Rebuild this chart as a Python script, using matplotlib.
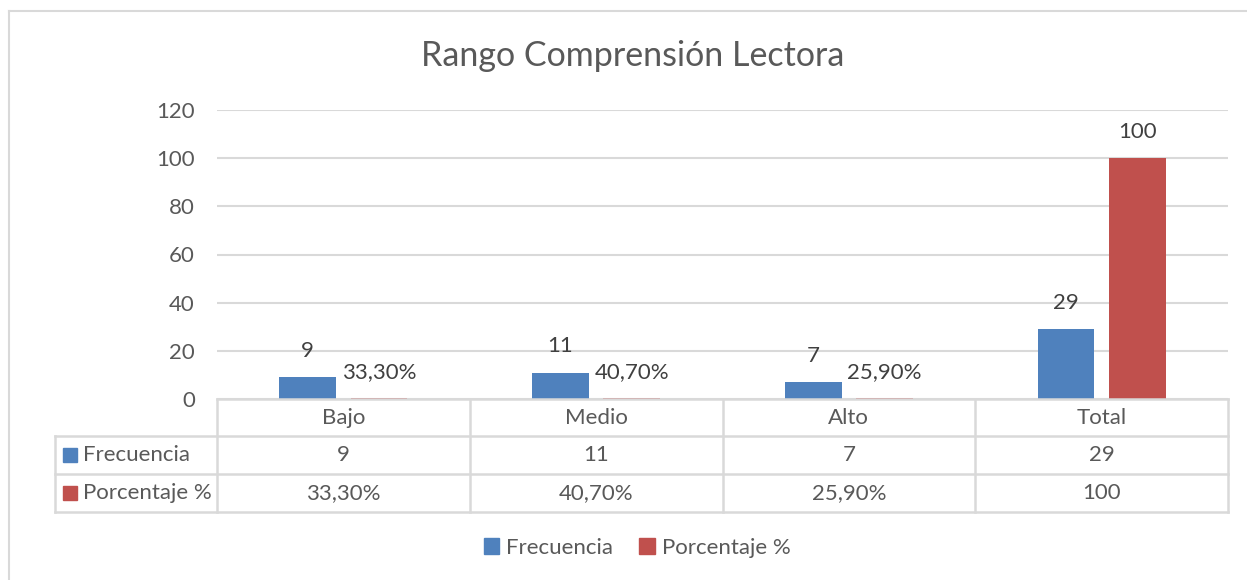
import matplotlib.pyplot as plt
from matplotlib.patches import Patch, Rectangle
from matplotlib.lines import Line2D
import matplotlib.transforms as mtransforms

plt.rcParams['font.family'] = ['Lato', 'DejaVu Sans']

# data
categories = ["Bajo", "Medio", "Alto", "Total"]
frecuencia = [9, 11, 7, 29]
porcentaje = [0.333, 0.407, 0.259, 100]
series_names = ["Frecuencia", "Porcentaje %"]
yticks = [0, 20, 40, 60, 80, 100, 120]

blue = "#4F81BD"
red = "#C0504D"
grid = "#D9D9D9"
txt = "#595959"
lbl = "#404040"
fs = 16


def fmt_pct(v):
    if v < 1:
        return ("%.2f%%" % (v * 100)).replace(".", ",")
    return str(int(v))


fig = plt.figure(figsize=(12.47, 5.8), dpi=100)
W, H = 1247, 580
ax = fig.add_axes([217 / W, 1 - 399 / H, (1228 - 217) / W, (399 - 110) / H])

x = list(range(len(categories)))
bw = 0.225
off = 0.141
b1 = ax.bar([i - off for i in x], frecuencia, bw, color=blue, zorder=3)
b2 = ax.bar([i + off for i in x], porcentaje, bw, color=red, zorder=3)

for rect, v in zip(b1, frecuencia):
    ax.annotate(str(v), (rect.get_x() + rect.get_width() / 2, rect.get_height()),
                xytext=(0, 19), textcoords="offset points", ha="center", va="center",
                fontsize=fs, color=lbl)
for rect, v in zip(b2, porcentaje):
    ax.annotate(fmt_pct(v), (rect.get_x() + rect.get_width() / 2, rect.get_height()),
                xytext=(0, 19), textcoords="offset points", ha="center", va="center",
                fontsize=fs, color=lbl)

ax.set_xlim(-0.5, len(categories) - 0.5)
ax.set_ylim(0, 120)
ax.set_yticks(yticks)
ax.set_xticks([])
ax.tick_params(axis="y", length=0, labelsize=fs, labelcolor=txt, pad=16)
ax.grid(axis="y", color=grid, linewidth=1.5, zorder=0)
for s in ax.spines.values():
    s.set_visible(False)

# data table under the axis
tr = mtransforms.blended_transform_factory(ax.transData, ax.transAxes)
ah = 399 - 110
cw = (1228 - 217) / 4
rows = [0, -(436 - 399) / ah, -(474 - 399) / ah, -(512 - 399) / ah]
xl = -0.5 - (217 - 55) / cw
xr = len(categories) - 0.5
kw = dict(transform=tr, color=grid, linewidth=1.8, clip_on=False, zorder=4)
ax.add_line(Line2D([-0.5, xr], [rows[0], rows[0]], **kw))
for r in rows[1:]:
    ax.add_line(Line2D([xl, xr], [r, r], **kw))
for i in range(len(categories) + 1):
    ax.add_line(Line2D([i - 0.5, i - 0.5], [rows[0], rows[3]], **kw))
ax.add_line(Line2D([xl, xl], [rows[1], rows[3]], **kw))

tab_rows = [frecuencia, [fmt_pct(v) for v in porcentaje]]
for i, c in enumerate(categories):
    ax.text(i, (rows[0] + rows[1]) / 2, c, transform=tr, ha="center", va="center",
            fontsize=fs, color=txt)
    for j, vals in enumerate(tab_rows):
        ax.text(i, (rows[j + 1] + rows[j + 2]) / 2, str(vals[i]), transform=tr,
                ha="center", va="center", fontsize=fs, color=txt)

sq = 14
for j, (name, col) in enumerate(zip(series_names, [blue, red])):
    yc = (rows[j + 1] + rows[j + 2]) / 2
    ax.add_patch(Rectangle((xl + 8 / cw, yc - sq / 2 / ah), sq / cw, sq / ah,
                           transform=tr, color=col, clip_on=False, zorder=5))
    ax.text(xl + 28 / cw, yc, name, transform=tr, ha="left", va="center",
            fontsize=fs, color=txt)

# legend
handles = [Patch(color=blue, label=series_names[0]), Patch(color=red, label=series_names[1])]
fig.legend(handles=handles, loc="center", bbox_to_anchor=(637 / W, 1 - 548 / H), ncol=2,
           frameon=False, fontsize=fs, labelcolor=txt, handlelength=0.7, handleheight=0.7,
           handletextpad=0.3, columnspacing=1.2)

# title
fig.text(633 / W, 1 - 56 / H, "Rango Comprensión Lectora", ha="center", va="center",
         fontsize=24.5, color=txt)

# outer chart border (top and left)
fig.add_artist(Line2D([9 / W, 1], [1 - 11 / H, 1 - 11 / H], color=grid, linewidth=1.5))
fig.add_artist(Line2D([9 / W, 9 / W], [0, 1 - 11 / H], color=grid, linewidth=1.5))

fig.savefig("out.png", dpi=100)
